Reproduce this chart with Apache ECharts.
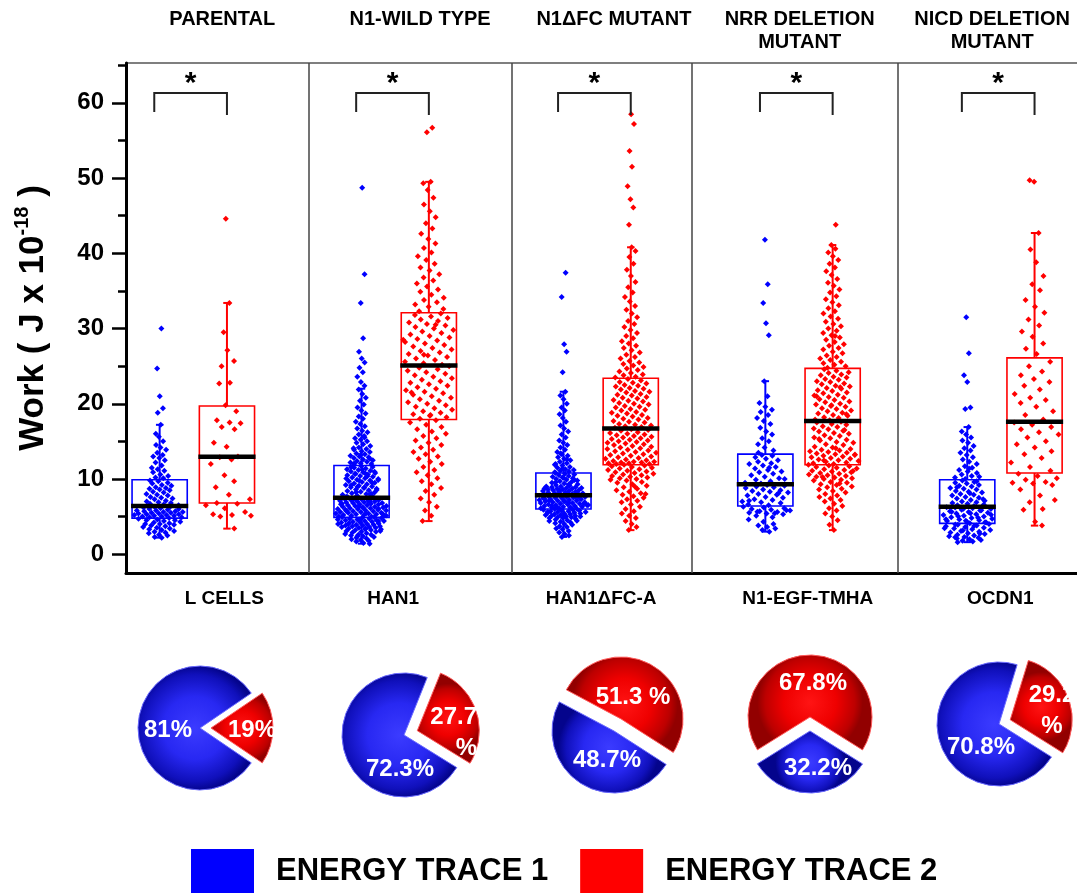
<!DOCTYPE html>
<html>
<head>
<meta charset="utf-8">
<script src="https://cdn.jsdelivr.net/npm/echarts@6/dist/echarts.min.js"></script>
<style>
html,body{margin:0;padding:0;background:#fff;}
#chart{width:1077px;height:894px;}
</style>
</head>
<body>
<div id="chart"></div>
<script>
// ---------- data ----------
const cellLines = ['L CELLS', 'HAN1', 'HAN1ΔFC-A', 'N1-EGF-TMHA', 'OCDN1'];
const constructs = ['PARENTAL', 'N1-WILD TYPE', 'N1ΔFC MUTANT', 'NRR DELETION\nMUTANT', 'NICD DELETION\nMUTANT'];
const traceNames = ['ENERGY TRACE 1', 'ENERGY TRACE 2'];
const yTicks = [0, 10, 20, 30, 40, 50, 60];
const yMinorTicks = [5, 15, 25, 35, 45, 55, 65];

// work per event (J x 10^-18), energy trace 1
const lcellsT1 = [2.2,2.3,2.5,2.6,2.8,2.9,3.0,3.1,3.2,3.3,3.4,3.5,3.6,3.7,3.8,3.9,4.0,4.0,4.1,4.2,4.3,4.4,4.5,4.5,4.6,4.7,4.8,
  4.9,4.9,5.0,5.0,5.1,5.1,5.2,5.2,5.3,5.3,5.4,5.4,5.5,5.5,5.6,5.6,5.7,5.7,5.8,5.8,5.9,6.0,6.0,6.1,6.2,6.3,6.3,
  6.5,6.6,6.7,6.8,6.9,7.0,7.1,7.3,7.4,7.5,7.6,7.8,7.9,8.0,8.2,8.3,8.5,8.6,8.7,8.8,8.9,9.1,9.2,9.4,9.5,9.7,9.8,
  10.1,10.2,10.4,10.6,10.9,11.1,11.3,11.5,11.8,12.2,12.5,12.8,13.0,13.2,13.5,13.9,14.2,14.5,15.0,15.6,16.0,17.2,18.8,19.4,21.0,24.7,30.0];
const han1T1 = [1.4,1.5,1.7,1.8,1.9,2.0,2.1,2.2,2.3,2.4,2.5,2.6,2.6,2.7,2.8,2.9,3.0,3.0,3.1,3.2,3.2,3.3,3.3,3.4,3.5,3.5,3.6,3.6,3.7,3.7,
  3.8,3.8,3.9,3.9,4.0,4.0,4.1,4.1,4.2,4.2,4.3,4.3,4.4,4.4,4.5,4.5,4.6,4.6,4.7,4.7,4.8,4.8,4.9,4.9,2.4,3.1,3.4,4.0,4.4,4.6,
  5.0,5.0,5.1,5.1,5.2,5.2,5.3,5.3,5.4,5.4,5.5,5.5,5.6,5.6,5.7,5.7,5.8,5.8,5.9,5.9,6.0,6.0,6.1,6.1,6.2,6.2,6.3,6.3,6.4,6.4,
  6.5,6.5,6.6,6.6,6.7,6.7,6.8,6.8,6.9,6.9,7.0,7.0,7.1,7.1,7.2,7.2,7.3,7.3,7.4,7.4,5.15,5.45,5.75,6.05,6.35,6.65,6.95,7.25,5.35,6.15,
  7.6,7.7,7.8,7.9,8.0,8.1,8.2,8.3,8.4,8.5,8.6,8.7,8.8,8.9,9.0,9.1,9.2,9.3,9.4,9.5,9.6,9.7,9.8,9.9,10.0,10.1,10.2,10.3,10.4,10.5,
  10.6,10.7,10.8,10.9,11.0,11.1,11.2,11.3,11.4,11.5,11.6,11.7,7.65,7.95,8.25,8.55,8.85,9.15,9.45,9.75,10.05,10.35,10.65,10.95,11.25,11.55,8.05,8.95,9.85,10.75,
  11.9,12.0,12.1,12.2,12.3,12.4,12.5,12.6,12.8,12.9,13.0,13.1,13.3,13.4,13.6,13.7,13.9,14.0,14.2,14.4,14.6,14.8,15.0,15.2,15.4,15.7,15.9,16.2,16.4,16.7,
  17.0,17.3,17.6,18.0,18.3,18.7,19.1,19.5,19.9,20.4,20.8,21.3,21.9,22.4,22.9,23.6,24.2,24.8,25.5,26.0,26.9,28.7,33.4,37.2,48.7,12.05,12.7,13.2,14.1,15.5];
const han1dfcT1 = [2.3,2.5,2.7,2.9,3.1,3.3,3.4,3.6,3.7,3.9,4.0,4.1,4.2,4.3,4.4,4.5,4.6,4.7,4.8,4.8,4.9,4.9,5.0,5.0,5.1,5.1,5.2,5.2,5.3,5.3,
  5.4,5.4,5.5,5.5,5.6,5.6,5.7,5.7,5.8,5.8,5.9,5.9,6.0,4.45,5.05,5.65,
  6.0,6.1,6.1,6.2,6.2,6.3,6.3,6.4,6.4,6.5,6.5,6.6,6.6,6.7,6.7,6.8,6.8,6.9,6.9,7.0,7.0,7.1,7.1,7.2,7.2,7.3,7.3,7.4,7.4,7.5,
  7.5,7.6,7.6,7.7,7.7,7.8,7.8,6.15,6.45,6.75,7.05,7.35,7.65,6.25,6.55,6.85,7.15,7.45,
  7.9,8.0,8.0,8.1,8.1,8.2,8.2,8.3,8.3,8.4,8.4,8.5,8.5,8.6,8.6,8.7,8.7,8.8,8.8,8.9,8.9,9.0,9.0,9.1,9.2,9.3,9.4,9.5,9.6,9.7,
  9.8,9.9,10.0,10.1,10.2,10.3,10.4,10.5,10.6,10.7,10.8,8.15,8.45,8.75,9.25,9.55,9.85,10.15,
  10.9,11.0,11.1,11.2,11.3,11.5,11.6,11.8,11.9,12.1,12.3,12.5,12.7,12.9,13.1,13.3,13.6,13.9,14.2,14.5,14.8,15.1,15.5,15.9,16.3,
  16.7,17.1,17.6,18.1,18.6,19.1,19.5,20.0,20.6,21.1,21.6,24.2,26.9,27.9,34.2,37.4,11.4,12.0,12.6,13.4];
const egfT1 = [3.0,3.2,3.4,3.6,3.8,4.0,4.3,4.6,4.9,5.1,5.3,5.4,5.5,5.6,5.7,5.8,5.9,6.0,6.1,6.2,6.3,5.45,5.65,5.85,
  6.5,6.6,6.8,6.9,7.0,7.2,7.3,7.5,7.6,7.8,7.9,8.0,8.2,8.3,8.4,8.5,8.6,8.8,8.9,9.0,9.1,9.2,7.1,8.1,
  9.4,9.5,9.7,9.9,10.1,10.3,10.5,10.7,10.9,11.0,11.2,11.4,11.6,11.8,12.0,12.1,12.3,12.5,12.7,12.9,13.1,13.2,10.0,11.5,
  13.5,13.8,14.2,14.6,15.0,15.4,15.9,16.3,16.8,17.3,17.7,18.1,18.5,18.9,19.2,19.6,20.1,21.0,23.0,29.1,30.7,33.4,35.9,41.8];
const ocdn1T1 = [1.6,1.7,1.8,1.9,2.0,2.1,2.2,2.3,2.4,2.5,2.6,2.7,2.8,2.9,3.0,3.1,3.2,3.3,3.4,3.5,3.6,3.7,3.8,3.9,4.0,4.1,2.25,2.75,3.15,3.45,3.75,3.95,
  4.2,4.3,4.4,4.5,4.6,4.7,4.8,4.9,5.0,5.1,5.2,5.3,5.4,5.5,5.6,5.7,5.8,5.9,6.0,6.1,6.2,4.25,4.45,4.65,4.85,5.05,5.25,5.45,5.65,5.85,6.05,6.25,
  6.4,6.5,6.6,6.7,6.8,6.9,7.0,7.1,7.2,7.4,7.5,7.6,7.8,7.9,8.0,8.2,8.3,8.4,8.6,8.7,8.8,9.0,9.1,9.2,9.4,9.5,9.6,9.8,7.3,8.1,8.9,9.7,
  10.0,10.2,10.4,10.6,10.8,11.0,11.2,11.5,11.7,12.0,12.3,12.6,12.9,13.2,13.5,13.8,14.1,14.4,14.8,15.1,15.5,15.9,16.3,16.9,19.3,19.5,22.9,23.8,26.7,31.5,10.3,11.4];

// energy trace 2
const lcellsT2 = [3.4,5.0,5.1,5.2,5.3,5.6,6.1,6.5,6.7,6.8,7.3,7.9,8.9,9.7,10.5,12.0,12.6,12.9,13.0,14.3,14.8,16.6,16.9,17.4,17.5,17.8,
  19.0,19.8,22.7,22.8,25.0,25.7,27.1,29.5,33.4,44.6];
const han1T2 = [4.4,5.1,5.8,6.3,6.9,7.4,7.9,8.4,8.8,9.3,9.7,10.1,10.5,10.9,11.2,11.6,12.0,12.3,12.7,13.0,13.3,13.6,13.9,14.2,14.5,14.8,
  15.1,15.4,15.7,16.0,16.3,16.6,16.9,17.2,17.5,17.8,
  18.0,18.2,18.4,18.6,18.8,19.0,19.2,19.4,19.6,19.8,20.0,20.2,20.4,20.6,20.8,21.0,21.2,21.4,21.6,21.8,22.0,22.2,22.4,22.6,22.8,
  23.0,23.2,23.4,23.6,23.8,24.0,24.2,24.4,24.6,24.8,25.0,18.5,21.5,
  25.2,25.4,25.6,25.8,26.0,26.2,26.4,26.6,26.8,27.0,27.2,27.4,27.6,27.8,28.0,28.2,28.4,28.6,28.8,29.0,29.2,29.4,29.6,29.8,30.0,
  30.2,30.4,30.6,30.8,31.0,31.2,31.4,31.6,31.8,32.0,26.5,28.5,30.5,
  32.3,32.6,32.9,33.2,33.5,33.8,34.1,34.5,34.9,35.2,35.6,36.0,36.4,36.8,37.2,37.7,38.1,38.6,39.1,39.6,40.1,40.7,41.3,41.9,42.6,
  43.3,44.0,44.8,45.6,46.5,47.4,48.4,49.3,49.5,56.1,56.7];
const han1dfcT2 = [3.2,3.6,4.0,4.4,4.8,5.1,5.4,5.7,6.0,6.3,6.6,6.9,7.1,7.3,7.5,7.7,7.9,8.1,8.3,8.5,8.7,8.9,9.1,9.3,9.5,9.6,9.8,9.9,10.0,10.1,
  10.2,10.3,10.4,10.5,10.6,10.7,10.8,10.9,11.0,11.1,11.2,11.3,11.4,11.5,11.6,11.7,11.8,11.9,8.0,9.0,
  12.0,12.0,12.1,12.1,12.2,12.2,12.3,12.3,12.4,12.5,12.6,12.7,12.8,12.9,13.0,13.1,13.2,13.3,13.4,13.5,13.6,13.7,13.8,13.9,14.0,
  14.1,14.2,14.3,14.4,14.5,14.6,14.7,14.8,14.9,15.0,15.1,15.2,15.3,15.4,15.5,15.6,15.7,15.8,15.9,16.0,16.1,16.2,16.4,16.5,16.6,
  16.8,16.9,17.0,17.1,17.2,17.3,17.5,17.6,17.7,17.9,18.0,18.1,18.3,18.4,18.5,18.7,18.8,18.9,19.1,19.2,19.3,19.5,19.6,19.7,19.9,
  20.0,20.1,20.3,20.4,20.5,20.7,20.8,20.9,21.1,21.2,21.3,21.5,21.6,21.7,21.9,22.0,22.1,22.3,22.4,22.5,22.7,22.8,22.9,23.1,23.3,
  23.5,23.6,23.8,23.9,24.1,24.3,24.5,24.7,24.9,25.1,25.3,25.5,25.7,26.0,26.2,26.5,26.8,27.1,27.4,27.7,28.0,28.3,28.7,29.0,29.4,
  29.8,30.2,30.6,31.0,31.5,32.0,32.5,33.0,33.6,34.2,34.8,35.5,36.2,37.0,37.8,38.6,39.5,40.3,40.8,43.8,46.1,47.2,48.9,51.5,53.6,57.2,58.5];
const egfT2 = [3.2,3.9,4.5,5.0,5.4,5.8,6.1,6.4,6.7,7.0,7.2,7.4,7.6,7.8,8.0,8.2,8.4,8.6,8.7,8.9,9.0,9.2,9.3,9.5,9.6,9.8,9.9,10.0,10.1,10.2,
  10.3,10.4,10.5,10.6,10.7,10.8,10.9,11.0,11.1,11.2,11.3,11.4,11.5,11.6,11.7,11.8,11.9,9.4,10.25,11.05,
  12.0,12.1,12.2,12.3,12.4,12.5,12.6,12.7,12.8,12.9,13.0,13.1,13.2,13.3,13.4,13.5,13.6,13.7,13.8,13.9,14.0,14.2,14.3,14.5,14.6,
  14.8,14.9,15.1,15.2,15.4,15.5,15.7,15.8,16.0,16.1,16.3,16.4,16.6,16.7,16.9,17.0,17.2,17.3,17.5,17.6,12.45,13.25,14.1,15.3,16.5,
  17.8,17.9,18.1,18.2,18.4,18.5,18.7,18.8,19.0,19.1,19.3,19.4,19.6,19.7,19.9,20.0,20.2,20.3,20.5,20.6,20.8,20.9,21.1,21.2,21.4,
  21.5,21.7,21.8,22.0,22.1,22.3,22.4,22.6,22.7,22.9,23.0,23.2,23.3,23.5,23.6,23.8,23.9,24.1,24.2,24.4,24.6,18.6,19.8,21.0,22.2,
  24.8,25.0,25.2,25.4,25.6,25.8,26.0,26.2,26.4,26.7,26.9,27.2,27.4,27.7,27.9,28.2,28.5,28.8,29.1,29.4,29.7,30.0,30.3,30.6,30.9,
  31.3,31.6,32.0,32.3,32.7,33.1,33.5,33.9,34.3,34.8,35.2,35.7,36.1,36.6,37.1,37.6,38.1,38.6,39.1,39.6,40.1,40.6,41.1,43.8,29.0];
const ocdn1T2 = [3.8,4.3,5.9,6.0,6.9,7.2,7.8,8.6,9.2,9.4,9.5,9.6,9.9,10.1,10.4,10.7,
  11.1,11.6,12.2,12.8,13.3,13.7,14.2,14.6,15.0,15.5,15.9,16.2,16.6,16.9,17.2,17.5,
  17.9,18.5,19.0,19.6,20.1,20.5,20.8,21.3,21.9,22.4,22.9,23.3,23.8,24.3,25.0,25.6,
  26.6,27.3,28.0,28.9,29.6,30.4,31.2,32.1,32.9,33.8,35.1,35.9,37.0,38.8,40.5,42.7,49.5,49.7];

const trace1Work = [lcellsT1, han1T1, han1dfcT1, egfT1, ocdn1T1];
const trace2Work = [lcellsT2, han1T2, han1dfcT2, egfT2, ocdn1T2];

// box statistics: whisker low, Q1, median, Q3, whisker high
const t1Low  = [2.2, 1.4, 2.3, 3.0, 1.6];
const t1Q1   = [4.8, 4.9, 6.0, 6.4, 4.1];
const t1Med  = [6.4, 7.5, 7.85, 9.3, 6.3];
const t1Q3   = [9.9, 11.8, 10.8, 13.3, 9.9];
const t1High = [17.2, 22.0, 21.6, 23.0, 16.9];
const t2Low  = [3.4, 4.4, 3.2, 3.2, 3.8];
const t2Q1   = [6.8, 17.9, 11.9, 11.9, 10.8];
const t2Med  = [12.95, 25.1, 16.7, 17.7, 17.6];
const t2Q3   = [19.7, 32.1, 23.4, 24.7, 26.1];
const t2High = [33.4, 49.5, 40.8, 41.1, 42.7];

// share of events per trace (%)
const share1 = [81, 72.3, 48.7, 32.2, 70.8];
const share2 = [19, 27.7, 51.3, 67.8, 29.2];
const share2Sep = ['', '\n', ' ', '', '\n'];

// ---------- layout & style ----------
const FONT = "'Liberation Sans', Arial, Helvetica, sans-serif";
const BLUE = '#0000ff', RED = '#ff0000';
const t1Pos = [1, 4, 7, 10, 13];
const t2Pos = [2, 5, 8, 11, 14];
const BOX_HALF = 0.41;
const CAP_HALF = 0.055;
const dividerX = [3.21, 6.23, 8.905, 11.975];
const bottomLabelX = [1.96, 4.47, 7.56, 10.63, 13.49];
const topLabelX = [1.93, 4.87, 7.75, 10.51, 13.37];
const BRACKET_TOP = 61.3, BRACKET_LEG_L = 58.8, BRACKET_LEG_R = 58.4, STAR_Y = 62.6;

const PIE_R = 62;
const pieCenter = [[200, 728], [404, 735], [614, 731], [810, 731], [999, 724]];
const pieStart = [34.2, 68, 152, 212, 73];
const pieExplode = [11, 14, 14, 14, 12];
// label anchor offsets from the pie centre
const trace2LabelOffset = [[52, 2], [73, -2], [19, -34], [3, -48], [53, -13]];
const trace1LabelOffset = [[-32, 2], [-4, 34], [-7, 29], [8, 37], [-18, 23]];
const trace2LabelAlign = ['center', 'right', 'center', 'center', 'center'];

const blueFill = {type: 'radial', x: 0.5, y: 0.5, r: 0.55, colorStops: [
  {offset: 0, color: '#3b3bff'}, {offset: 0.5, color: '#2828f2'}, {offset: 0.85, color: '#1010bb'}, {offset: 1, color: '#04048c'}]};
const redFill = {type: 'radial', x: 0.5, y: 0.5, r: 0.55, colorStops: [
  {offset: 0, color: '#ff1414'}, {offset: 0.5, color: '#ef0000'}, {offset: 0.85, color: '#bd0000'}, {offset: 1, color: '#920000'}]};

// ---------- helpers ----------
function frac(x) { return x - Math.floor(x); }

// spread points sideways, wider where values are dense
function spreadPoints(values, center, q1, q3, seed) {
  const h = Math.max(0.18 * (q3 - q1), 0.4);
  const counts = values.map(v => values.filter(u => Math.abs(u - v) <= h).length);
  const maxC = Math.max.apply(null, counts);
  return values.map((v, i) => {
    const hw = BOX_HALF * 0.97 * (0.1 + 0.9 * counts[i] / maxC);
    const off = (frac((i + 1) * 0.6180339887 + seed) - 0.5) * 2 * hw;
    return [center + off, v];
  });
}

function boxRenderer(color) {
  return function (params, api) {
    const x = api.value(0);
    const lo = api.coord([x, api.value(1)]);
    const q1 = api.coord([x, api.value(2)]);
    const md = api.coord([x, api.value(3)]);
    const q3 = api.coord([x, api.value(4)]);
    const hi = api.coord([x, api.value(5)]);
    const hw = api.size([BOX_HALF, 0])[0];
    const cw = api.size([CAP_HALF, 0])[0];
    const cx = lo[0];
    const st = {stroke: color, lineWidth: 2, fill: null};
    return {
      type: 'group',
      children: [
        {type: 'line', shape: {x1: cx, y1: q3[1], x2: cx, y2: hi[1]}, style: st},
        {type: 'line', shape: {x1: cx, y1: q1[1], x2: cx, y2: lo[1]}, style: st},
        {type: 'line', shape: {x1: cx - cw, y1: hi[1], x2: cx + cw, y2: hi[1]}, style: st},
        {type: 'line', shape: {x1: cx - cw, y1: lo[1], x2: cx + cw, y2: lo[1]}, style: st},
        {type: 'rect', shape: {x: cx - hw, y: q3[1], width: 2 * hw, height: q1[1] - q3[1]},
          style: {stroke: color, lineWidth: 1.6, fill: null}},
        {type: 'line', shape: {x1: cx - hw - 1, y1: md[1], x2: cx + hw + 1, y2: md[1]},
          style: {stroke: '#000', lineWidth: 4.5}}
      ]
    };
  };
}

function bracketRenderer(params, api) {
  const xl = api.value(0), xr = api.value(1);
  const a = api.coord([xl, BRACKET_LEG_L]);
  const b = api.coord([xl, BRACKET_TOP]);
  const c = api.coord([xr, BRACKET_TOP]);
  const d = api.coord([xr, BRACKET_LEG_R]);
  const s = api.coord([(xl + xr) / 2, STAR_Y]);
  return {
    type: 'group',
    children: [
      {type: 'polyline', shape: {points: [a, b, c, d]}, style: {stroke: '#222', lineWidth: 2, fill: null}},
      {type: 'text', x: s[0], y: s[1], style: {text: '*', fill: '#000', font: 'bold 30px ' + FONT,
        align: 'center', verticalAlign: 'middle'}}
    ]
  };
}

function nearestIndex(arr, v) {
  let best = 0;
  arr.forEach((a, i) => { if (Math.abs(a - v) < Math.abs(arr[best] - v)) best = i; });
  return best;
}

// ---------- series ----------
const scatter1 = trace1Work.flatMap((vals, g) => spreadPoints(vals, t1Pos[g], t1Q1[g], t1Q3[g], g * 0.37));
const scatter2 = trace2Work.flatMap((vals, g) => spreadPoints(vals, t2Pos[g], t2Q1[g], t2Q3[g], g * 0.29 + 0.13));
const boxes1 = t1Pos.map((x, g) => [x, t1Low[g], t1Q1[g], t1Med[g], t1Q3[g], t1High[g]]);
const boxes2 = t2Pos.map((x, g) => [x, t2Low[g], t2Q1[g], t2Med[g], t2Q3[g], t2High[g]]);
const brackets = t1Pos.map((x, g) => [x - 0.08, t2Pos[g]]);

// Each pie is drawn as two layers: the trace-1 slice at the pie centre and the
// trace-2 slice shifted outward along its bisector (exploded).
const hiddenItem = {color: 'rgba(0,0,0,0)', borderWidth: 0};
const pieSeries = [];
share1.forEach((s1, i) => {
  const s2 = share2[i];
  const mid = (pieStart[i] - s2 * 3.6 / 2) * Math.PI / 180;
  const c = pieCenter[i];
  const c2 = [c[0] + pieExplode[i] * Math.cos(mid), c[1] - pieExplode[i] * Math.sin(mid)];
  const common = {
    type: 'pie', radius: PIE_R, startAngle: pieStart[i], clockwise: true,
    avoidLabelOverlap: false, silent: true, emphasis: {disabled: true},
    labelLine: {show: false}
  };
  const labelBase = {
    show: true, position: 'inner', color: '#fff', fontSize: 24, fontWeight: 'bold',
    fontFamily: FONT, lineHeight: 31
  };
  pieSeries.push(Object.assign({}, common, {
    center: c,
    label: Object.assign({}, labelBase, {formatter: () => s1 + '%'}),
    labelLayout: () => ({x: c[0] + trace1LabelOffset[i][0], y: c[1] + trace1LabelOffset[i][1],
      align: 'center', verticalAlign: 'middle'}),
    data: [
      {name: traceNames[1], value: s2, itemStyle: hiddenItem, label: {show: false}},
      {name: traceNames[0], value: s1, itemStyle: {color: blueFill, borderColor: '#6a6aff', borderWidth: 1}}
    ]
  }));
  pieSeries.push(Object.assign({}, common, {
    center: c2,
    label: Object.assign({}, labelBase, {formatter: () => s2 + share2Sep[i] + '%'}),
    labelLayout: () => ({x: c[0] + trace2LabelOffset[i][0], y: c[1] + trace2LabelOffset[i][1],
      align: trace2LabelAlign[i], verticalAlign: 'middle'}),
    data: [
      {name: traceNames[1], value: s2, itemStyle: {color: redFill, borderColor: '#ff5a5a', borderWidth: 1}},
      {name: traceNames[0], value: s1, itemStyle: hiddenItem, label: {show: false}}
    ]
  }));
});

const option = {
  animation: false,
  backgroundColor: '#fff',
  textStyle: {fontFamily: FONT},
  grid: {left: 126, right: -58.5, top: 63, bottom: 321, show: true, borderColor: '#555', borderWidth: 1.5,
    outerBoundsMode: 'none'},
  legend: {
    left: 191, top: 849, padding: 0, itemWidth: 63, itemHeight: 44, itemGap: 32, icon: 'rect',
    itemStyle: {opacity: 1, borderWidth: 0},
    textStyle: {fontSize: 31, fontWeight: 'bold', color: '#000', fontFamily: FONT, padding: [0, 0, 0, 17]},
    data: [
      {name: traceNames[0], itemStyle: {color: BLUE, opacity: 1, borderWidth: 0}},
      {name: traceNames[1], itemStyle: {color: RED, opacity: 1, borderWidth: 0}}
    ]
  },
  xAxis: [
    {
      type: 'value', min: 0.5, max: 15.5, position: 'bottom',
      axisLine: {show: true, onZero: false, lineStyle: {color: '#000', width: 3}},
      axisTick: {show: false},
      splitLine: {show: false},
      axisLabel: {
        customValues: bottomLabelX, margin: 16, color: '#000', fontSize: 19, fontWeight: 'bold', fontFamily: FONT,
        formatter: v => cellLines[nearestIndex(bottomLabelX, v)]
      }
    },
    {
      type: 'value', min: 0.5, max: 15.5, position: 'top',
      axisLine: {show: false},
      axisTick: {show: false},
      splitLine: {show: false},
      axisLabel: {
        customValues: topLabelX, margin: 55, verticalAlign: 'top', color: '#000', fontSize: 20, fontWeight: 'bold',
        fontFamily: FONT, lineHeight: 23,
        formatter: v => constructs[nearestIndex(topLabelX, v)]
      }
    }
  ],
  yAxis: [
    {
      type: 'value', min: -2.5, max: 65.3, position: 'left',
      name: '{a|Work ( J x 10}{s|-18}{a| )}',
      nameLocation: 'middle', nameGap: 72, nameRotate: 90,
      nameTextStyle: {
        rich: {
          a: {fontSize: 35, fontWeight: 'bold', color: '#000', fontFamily: FONT, lineHeight: 42},
          s: {fontSize: 20, fontWeight: 'bold', color: '#000', fontFamily: FONT, lineHeight: 20, verticalAlign: 'top'}
        }
      },
      axisLine: {show: true, onZero: false, lineStyle: {color: '#000', width: 3}},
      axisTick: {show: true, customValues: yTicks, length: 14, lineStyle: {color: '#000', width: 2.5}},
      axisLabel: {customValues: yTicks, margin: 22, color: '#000', fontSize: 24, fontWeight: 'bold', fontFamily: FONT},
      splitLine: {show: false}
    },
    {
      type: 'value', min: -2.5, max: 65.3, position: 'left', offset: 0,
      axisLine: {show: false},
      axisTick: {show: true, customValues: yMinorTicks, length: 8, lineStyle: {color: '#000', width: 2.5}},
      axisLabel: {show: false},
      splitLine: {show: false}
    }
  ],
  series: [
    {
      name: traceNames[0], type: 'scatter', xAxisIndex: 0, yAxisIndex: 0, data: scatter1,
      symbol: 'diamond', symbolSize: 6, itemStyle: {color: BLUE, opacity: 1}, z: 2, silent: true
    },
    {
      name: traceNames[1], type: 'scatter', xAxisIndex: 0, yAxisIndex: 0, data: scatter2,
      symbol: 'diamond', symbolSize: 6, itemStyle: {color: RED, opacity: 1}, z: 2, silent: true
    },
    {
      name: traceNames[0], type: 'custom', xAxisIndex: 0, yAxisIndex: 0, data: boxes1,
      encode: {x: 0, y: [1, 2, 3, 4, 5]}, renderItem: boxRenderer(BLUE), z: 3, silent: true,
      itemStyle: {color: BLUE}
    },
    {
      name: traceNames[1], type: 'custom', xAxisIndex: 0, yAxisIndex: 0, data: boxes2,
      encode: {x: 0, y: [1, 2, 3, 4, 5]}, renderItem: boxRenderer(RED), z: 3, silent: true,
      itemStyle: {color: RED}
    },
    {
      type: 'custom', xAxisIndex: 0, yAxisIndex: 0, data: brackets,
      encode: {x: [0, 1]}, renderItem: bracketRenderer, z: 4, silent: true, clip: false,
      markLine: {
        silent: true, symbol: ['none', 'none'], label: {show: false},
        lineStyle: {color: '#444', width: 1.5, type: 'solid'},
        data: dividerX.map(x => ({xAxis: x}))
      }
    }
  ].concat(pieSeries)
};

const chart = echarts.init(document.getElementById('chart'));
chart.setOption(option);
</script>
</body>
</html>
